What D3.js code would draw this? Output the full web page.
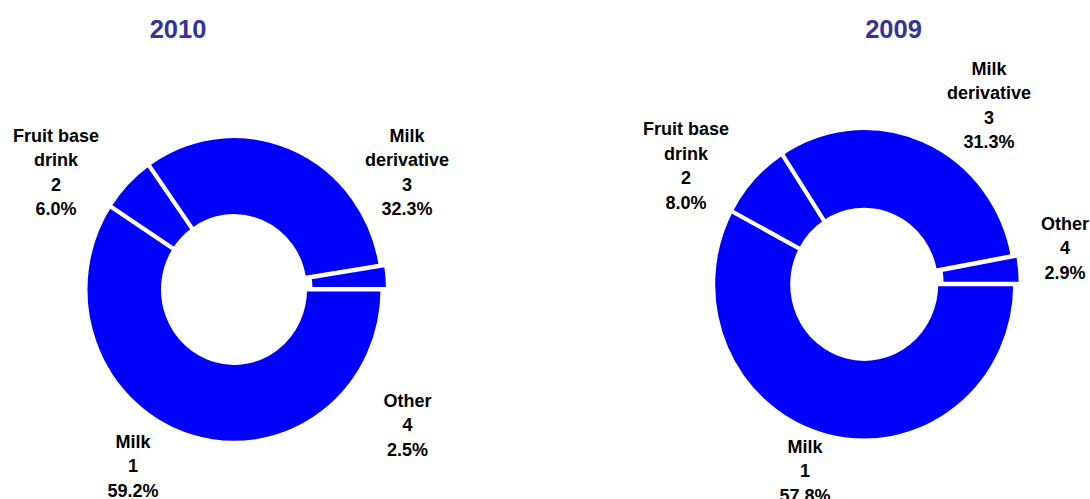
<!DOCTYPE html>
<html>
<head>
<meta charset="utf-8">
<script src="https://cdn.jsdelivr.net/npm/d3@7"></script>
<style>
  html, body { margin: 0; padding: 0; background: #fff; }
  svg { display: block; font-family: Arial, "Liberation Sans", sans-serif; }
</style>
</head>
<body>
<svg id="chart" width="1090" height="499"></svg>
<script>
// category order as drawn clockwise from 3 o'clock
const categories = ['Milk', 'Fruit base drink', 'Milk derivative', 'Other'];
const categoryLines = [['Milk'], ['Fruit base', 'drink'], ['Milk', 'derivative'], ['Other']];
const codes = ['1', '2', '3', '4'];
const years = ['2010', '2009'];
const share2010 = [59.2, 6.0, 32.3, 2.5];
const share2009 = [57.8, 8.0, 31.3, 2.9];

// layout only (not data)
const panels = [
  { year: years[0], values: share2010, cx: 234, cy: 289.5, r: 148.5, ir: 71, sy: 1.033, titleX: 178,
    labels: [[133, 442], [56, 136], [407, 136], [407.5, 401]] },
  { year: years[1], values: share2009, cx: 864.2, cy: 284.3, r: 151, ir: 72, sy: 1.035, titleX: 893.5,
    labels: [[805, 447], [686, 129.3], [989, 69], [1065, 224]] }
];
const explodeIdx = 3;
const explodeBy = 5.5;
const lineH = 24.4;

const svg = d3.select('#chart');

const pie = d3.pie()
  .sort(null)
  .value(function (d) { return d.value; })
  .startAngle(Math.PI / 2)
  .endAngle(Math.PI / 2 + 2 * Math.PI);

panels.forEach(function (p) {
  const rows = categories.map(function (c, i) {
    return { name: c, lines: categoryLines[i], code: codes[i], value: p.values[i] };
  });
  const arcs = pie(rows);
  const arc = d3.arc().innerRadius(p.ir).outerRadius(p.r);

  svg.append('text')
    .attr('x', p.titleX)
    .attr('y', 28.5)
    .attr('text-anchor', 'middle')
    .attr('dominant-baseline', 'central')
    .attr('font-size', 25.5)
    .attr('font-weight', 'bold')
    .attr('fill', '#333399')
    .text(p.year);

  const g = svg.append('g')
    .attr('transform', 'translate(' + p.cx + ',' + p.cy + ') scale(1,' + p.sy + ')');

  g.selectAll('path')
    .data(arcs)
    .join('path')
    .attr('d', arc)
    .attr('fill', '#0000ff')
    .attr('stroke', '#ffffff')
    .attr('stroke-width', 4)
    .attr('stroke-linejoin', 'miter')
    .attr('transform', function (d, i) {
      if (i !== explodeIdx) return null;
      const a = (d.startAngle + d.endAngle) / 2;
      return 'translate(' + (Math.sin(a) * explodeBy) + ',' + (-Math.cos(a) * explodeBy) + ')';
    });

  arcs.forEach(function (d, i) {
    const pos = p.labels[i];
    const lines = d.data.lines.concat([d.data.code, d3.format('.1f')(d.data.value) + '%']);
    const t = svg.append('text')
      .attr('text-anchor', 'middle')
      .attr('font-size', 18)
      .attr('font-weight', 'bold')
      .attr('fill', '#000');
    lines.forEach(function (ln, k) {
      t.append('tspan')
        .attr('x', pos[0])
        .attr('y', pos[1] + k * lineH)
        .attr('dominant-baseline', 'central')
        .text(ln);
    });
  });
});
</script>
</body>
</html>
